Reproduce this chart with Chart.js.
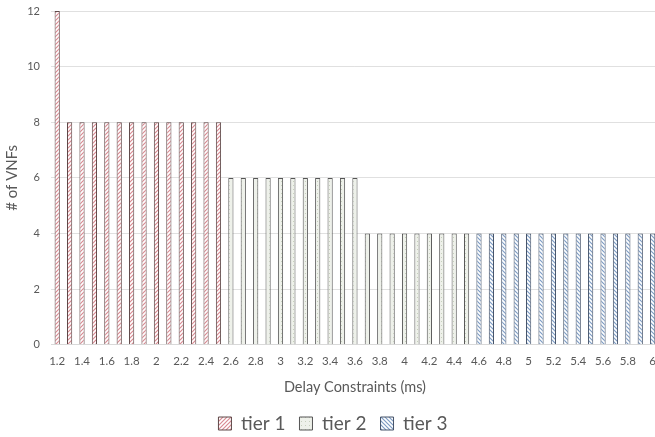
<!DOCTYPE html>
<html>
<head>
<meta charset="utf-8">
<script src="https://cdn.jsdelivr.net/npm/chart.js@4.4.0/dist/chart.umd.min.js"></script>
<style>
html,body{margin:0;padding:0;background:#fff;overflow:hidden;}
#wrap{width:666px;height:437px;position:relative;}
</style>
</head>
<body>
<div id="wrap"><canvas id="c"></canvas></div>
<script>
const categories = ["1.2","1.3","1.4","1.5","1.6","1.7","1.8","1.9","2","2.1","2.2","2.3","2.4","2.5",
  "2.6","2.7","2.8","2.9","3","3.1","3.2","3.3","3.4","3.5","3.6",
  "3.7","3.8","3.9","4","4.1","4.2","4.3","4.4","4.5",
  "4.6","4.7","4.8","4.9","5","5.1","5.2","5.3","5.4","5.5","5.6","5.7","5.8","5.9","6"];
const tier1 = [12,8,8,8,8,8,8,8,8,8,8,8,8,8];
const tier2 = [6,6,6,6,6,6,6,6,6,6,6,4,4,4,4,4,4,4,4,4];
const tier3 = [4,4,4,4,4,4,4,4,4,4,4,4,4,4,4];
const seriesNames = ["tier 1","tier 2","tier 3"];
const yTicks = [0,2,4,6,8,10,12];

function pad(arr, start){
  const out = categories.map(()=>null);
  arr.forEach((v,i)=>{ out[start+i]=v; });
  return out;
}
function pattern(kind){
  const s = 4;
  const c = document.createElement('canvas');
  c.width = s; c.height = s;
  const g = c.getContext('2d');
  g.fillStyle = '#ffffff'; g.fillRect(0,0,s,s);
  if(kind===1){
    g.strokeStyle = '#d98a92'; g.lineWidth = 1.2;
    g.beginPath(); g.moveTo(0,s); g.lineTo(s,0); g.moveTo(-s/2,s/2); g.lineTo(s/2,-s/2); g.moveTo(s/2,s*1.5); g.lineTo(s*1.5,s/2); g.stroke();
  } else if(kind===2){
    g.fillStyle = '#eef1ea'; g.fillRect(0,0,s,s);
    g.fillStyle = '#c6cfbc';
    g.fillRect(1,1,1,1);
  } else {
    g.strokeStyle = '#7d9cc4'; g.lineWidth = 1.2;
    g.beginPath(); g.moveTo(0,0); g.lineTo(s,s); g.moveTo(-s/2,s/2); g.lineTo(s/2,s*1.5); g.moveTo(s/2,-s/2); g.lineTo(s*1.5,s/2); g.stroke();
  }
  return document.getElementById('c').getContext('2d').createPattern(c,'repeat');
}
const font = "Lato, 'Open Sans', sans-serif";
const ds = [
  {label: seriesNames[0], data: pad(tier1,0), backgroundColor: pattern(1), borderColor:'#5e4848'},
  {label: seriesNames[1], data: pad(tier2,14), backgroundColor: pattern(2), borderColor:'#555555'},
  {label: seriesNames[2], data: pad(tier3,34), backgroundColor: pattern(3), borderColor:'#46546a'}
].map(d=>Object.assign(d,{borderWidth:1, barPercentage:0.42, categoryPercentage:1, grouped:false, borderSkipped:'bottom'}));

new Chart(document.getElementById('c'), {
  type: 'bar',
  data: { labels: categories, datasets: ds },
  options: {
    responsive: true,
    maintainAspectRatio: false,
    animation: false,
    layout: { padding: { top: 11, right: 0, left: 0, bottom: -6 } },
    plugins: {
      tooltip: { enabled: false },
      legend: {
        position: 'bottom',
        labels: {
          font: { family: font, size: 19 },
          color: '#595959',
          boxWidth: 13, boxHeight: 13,
          padding: 14
        }
      }
    },
    scales: {
      x: {
        grid: { display: false, drawTicks: false },
        border: { display: true, color: '#d9d9d9' },
        ticks: {
          autoSkip: false,
          maxRotation: 0,
          padding: 10,
          font: { family: font, size: 11.5 },
          color: '#595959',
          callback: function(v, i){ return i % 2 === 0 ? categories[i] : ''; }
        },
        title: { display: true, text: 'Delay Constraints (ms)', font: { family: font, size: 14.5 }, color: '#595959', padding: {top: 0, bottom: 4} }
      },
      y: {
        min: 0, max: 12,
        afterBuildTicks: function(scale){ scale.ticks = yTicks.map(v=>({value:v})); },
        afterFit: function(scale){ scale.width = 51; scale.paddingTop = 0; scale.paddingBottom = 0; },
        grid: { color: '#e0e0e0', drawTicks: false },
        border: { display: false },
        ticks: { padding: 11, font: { family: font, size: 11 }, color: '#595959' },
        title: { display: true, text: '# of VNFs', font: { family: font, size: 15 }, color: '#595959', padding: {top:3,bottom:0} }
      }
    }
  }
});
</script>
</body>
</html>
